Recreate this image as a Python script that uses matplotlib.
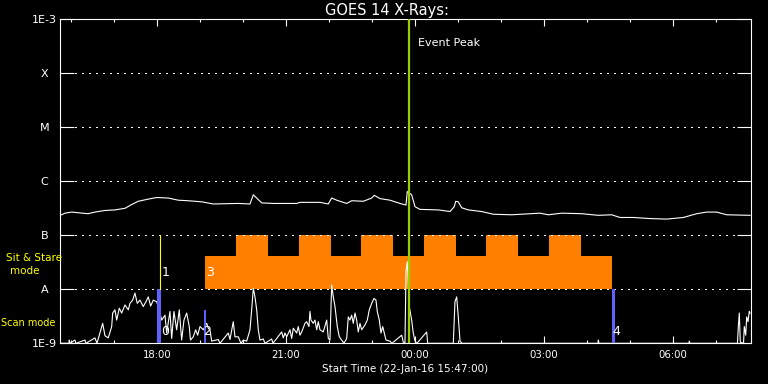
import matplotlib
matplotlib.use("Agg")
import matplotlib.pyplot as plt

# times are hours since 22-Jan-16 00:00, fluxes are log10(W/m^2)
goes_t = [15.783, 15.860, 16.016, 16.395, 16.558, 16.791, 17.023, 17.256, 17.412, 17.565,
          17.798, 17.993, 18.263, 18.495, 18.728, 19.040, 19.309, 19.884, 20.163, 20.240,
          20.319, 20.435, 20.705, 21.249, 21.326, 21.791, 21.984, 22.063, 22.179, 22.412,
          22.528, 22.798, 22.993, 23.053, 23.186, 23.419, 23.651, 23.791, 23.821, 23.923,
          24.000, 24.116, 24.542, 24.814, 24.914, 24.947, 25.007, 25.086, 25.240, 25.551,
          25.821, 26.249, 26.907, 27.100, 27.412, 27.877, 28.263, 28.574, 28.767, 29.077,
          29.465, 29.853, 30.240, 30.551, 30.784, 31.016, 31.249, 31.791]
goes_lg = [-6.62, -6.59, -6.57, -6.60, -6.57, -6.54, -6.53, -6.50, -6.43, -6.37,
           -6.33, -6.30, -6.31, -6.35, -6.36, -6.38, -6.42, -6.41, -6.42, -6.25,
           -6.31, -6.40, -6.41, -6.41, -6.39, -6.39, -6.42, -6.31, -6.35, -6.41,
           -6.36, -6.37, -6.31, -6.26, -6.32, -6.35, -6.41, -6.44, -6.19, -6.25,
           -6.47, -6.52, -6.53, -6.56, -6.47, -6.37, -6.38, -6.49, -6.53, -6.56,
           -6.61, -6.62, -6.59, -6.62, -6.59, -6.60, -6.63, -6.62, -6.67, -6.67,
           -6.69, -6.70, -6.67, -6.60, -6.57, -6.57, -6.62, -6.63]

scan_t = [15.780, 15.953, 15.960, 15.977, 16.093, 16.116, 16.326, 16.349, 16.558, 16.605,
          16.674, 16.737, 16.791, 16.867, 16.947, 16.970, 17.023, 17.063, 17.123, 17.179,
          17.256, 17.333, 17.372, 17.435, 17.488, 17.542, 17.605, 17.681, 17.744, 17.798,
          17.853, 17.914, 17.993, 18.070, 18.109, 18.186, 18.226, 18.302, 18.342, 18.395,
          18.458, 18.519, 18.574, 18.628, 18.691, 18.751, 18.779, 18.844, 18.900, 18.947,
          19.000, 19.077, 19.116, 19.156, 19.193, 19.233, 19.272, 19.426, 19.465, 19.658,
          19.698, 19.774, 19.814, 19.891, 19.953, 20.007, 20.086, 20.163, 20.202, 20.240,
          20.279, 20.319, 20.356, 20.395, 20.472, 20.512, 20.667, 20.698, 20.900, 20.937,
          20.977, 21.016, 21.093, 21.133, 21.170, 21.249, 21.286, 21.326, 21.365, 21.442,
          21.481, 21.535, 21.558, 21.581, 21.635, 21.674, 21.714, 21.751, 21.791, 21.867,
          21.947, 21.984, 22.023, 22.063, 22.100, 22.140, 22.193, 22.240, 22.295, 22.349,
          22.412, 22.449, 22.488, 22.528, 22.565, 22.605, 22.644, 22.681, 22.721, 22.760,
          22.837, 22.891, 22.937, 22.993, 23.047, 23.093, 23.123, 23.170, 23.209, 23.249,
          23.286, 23.326, 23.419, 23.465, 23.691, 23.728, 23.767, 23.791, 23.821, 23.867,
          23.923, 23.960, 24.000, 24.047, 24.272, 24.295, 24.891, 24.930, 24.970, 25.007,
          25.047, 25.093, 28.256, 28.263, 28.279, 30.372, 30.379, 30.395, 31.500, 31.519,
          31.542, 31.565, 31.640, 31.658, 31.691, 31.714, 31.744, 31.774, 31.791]
scan_lg = [-9.00, -9.00, -8.94, -9.00, -8.94, -9.00, -8.94, -9.00, -8.90, -9.00,
           -8.81, -8.63, -8.86, -8.90, -8.69, -8.44, -8.38, -8.57, -8.35, -8.44,
           -8.29, -8.38, -8.26, -8.20, -8.07, -8.26, -8.20, -8.32, -8.23, -8.14,
           -8.31, -8.20, -8.23, -8.44, -8.57, -8.48, -8.81, -8.41, -8.91, -8.41,
           -8.75, -8.38, -8.94, -8.57, -8.44, -8.69, -8.94, -8.88, -8.75, -8.85,
           -8.69, -8.75, -8.69, -8.63, -8.72, -8.75, -8.96, -8.93, -9.00, -8.81,
           -8.93, -8.60, -8.88, -8.88, -9.00, -8.94, -8.96, -8.75, -8.38, -7.98,
           -8.14, -8.38, -8.75, -8.94, -8.92, -9.00, -8.92, -9.00, -8.79, -8.90,
           -8.81, -8.88, -8.75, -8.91, -8.72, -8.81, -8.69, -8.85, -8.79, -8.63,
           -8.60, -8.69, -8.41, -8.57, -8.63, -8.57, -8.75, -8.60, -8.75, -8.79,
           -8.57, -8.91, -8.94, -7.92, -8.14, -8.32, -8.69, -8.88, -8.94, -9.00,
           -8.91, -8.51, -8.57, -8.48, -8.63, -8.44, -8.57, -8.79, -8.63, -8.75,
           -8.66, -8.57, -8.38, -8.26, -8.17, -8.20, -8.41, -8.57, -8.81, -8.69,
           -8.81, -8.94, -8.96, -9.00, -8.85, -8.98, -9.00, -7.67, -7.49, -8.32,
           -8.57, -8.81, -8.96, -9.00, -8.79, -9.00, -9.00, -8.23, -8.14, -8.51,
           -8.96, -9.00, -9.00, -8.94, -9.00, -9.00, -8.96, -9.00, -9.00, -8.69,
           -8.44, -8.98, -9.00, -8.69, -8.85, -8.51, -8.60, -8.41, -8.44]

# sit & stare pointings: one long base block plus six raised blocks
stare_span = (19.116, 28.581)
stare_low, stare_high = -7.38, -7.0
raised_start = [19.837, 21.302, 22.744, 24.209, 25.651, 27.116]
raised_end = [20.581, 22.047, 23.488, 24.953, 26.395, 27.860]

# scan mode markers (blue bars) and their numbers
scan_bar_t = [18.000, 19.090, 28.581]
scan_bar_w = [0.093, 0.047, 0.070]
scan_bar_top = [-8.0, -8.38, -8.0]
scan_num = ["0", "2", "4"]
scan_num_t = [18.09, 19.08, 28.60]

stare_line_t = 18.077
event_peak_t = 23.86

level_pos = [-9, -8, -7, -6, -5, -4, -3]
level_lbl = ["1E-9", "A", "B", "C", "M", "X", "1E-3"]
hour_major = [18, 21, 24, 27, 30]
hour_lbl = ["18:00", "21:00", "00:00", "03:00", "06:00"]
hour_minor = list(range(16, 32))

W, H = 768, 384
fig = plt.figure(figsize=(W / 100, H / 100), dpi=100, facecolor="black")
ax = fig.add_axes([60.3 / W, 1 - 343.3 / H, 690.4 / W, 324 / H], facecolor="black")
ax.set_xlim(15.752, 31.807)
ax.set_ylim(-9, -3)

# orange sit & stare blocks
ax.bar(stare_span[0], stare_low - (-8.0), width=stare_span[1] - stare_span[0],
       bottom=-8.0, align="edge", color="#ff8000", lw=0, zorder=2)
for s, e in zip(raised_start, raised_end):
    ax.bar(s, stare_high - stare_low, width=e - s, bottom=stare_low,
           align="edge", color="#ff8000", lw=0, zorder=2)

# dotted level lines (crisp 1px dots every 6px)
for lv in level_pos[1:-1]:
    ax.axhline(lv, xmin=0.0213, xmax=0.9787, color="white", lw=0.75,
               ls=(0, (1, 5)), antialiased=False, zorder=3)

ax.plot(goes_t, goes_lg, color="white", lw=0.8, zorder=4)
ax.plot(scan_t, scan_lg, color="white", lw=0.8, zorder=4)

for t, w, top in zip(scan_bar_t, scan_bar_w, scan_bar_top):
    ax.bar(t, top + 9, width=w, bottom=-9, align="edge", color="#6060ff", lw=0, zorder=5)
for lbl, t in zip(scan_num, scan_num_t):
    ax.text(t, -8.79, lbl, color="white", fontsize=9, ha="left", va="center", zorder=6)

ax.plot([stare_line_t, stare_line_t], [-8, -7], color="yellow", lw=0.8, zorder=5)
ax.text(18.116, -7.68, "1", color="white", fontsize=9, ha="left", va="center", zorder=6)
ax.text(19.14, -7.68, "3", color="white", fontsize=9, ha="left", va="center", zorder=6)

ax.axvline(event_peak_t, color="#9acd00", lw=1.6, zorder=5)
ax.text(24.07, -3.44, "Event Peak", color="white", fontsize=8, ha="left", va="center")

# axes styling
for sp in ax.spines.values():
    sp.set_color("white")
    sp.set_linewidth(0.8)
ax.set_yticks(level_pos)
ax.set_yticklabels(level_lbl)
ax.set_xticks(hour_major)
ax.set_xticklabels(hour_lbl)
ax.set_xticks(hour_minor, minor=True)
ax.tick_params(axis="y", which="both", direction="in", left=True, right=True,
               length=10, width=0.8, color="white", labelcolor="white",
               labelsize=8, pad=11.4)
for lab in ax.get_yticklabels():
    lab.set_horizontalalignment("center")
ax.tick_params(axis="x", which="major", direction="in", top=True, bottom=True,
               length=4.8, width=0.8, color="white", labelcolor="white",
               labelsize=7.3, pad=5)
ax.tick_params(axis="x", which="minor", direction="in", top=True, bottom=True,
               length=2.4, width=0.8, color="white")

fig.text(387 / W, 1 - 10 / H, "GOES 14 X-Rays:", color="white", fontsize=10.5,
         ha="center", va="center")
fig.text(405 / W, 1 - 368.5 / H, "Start Time (22-Jan-16 15:47:00)", color="white",
         fontsize=7.5, ha="center", va="center")
fig.text(34.5 / W, 1 - 258 / H, "Sit & Stare", color="yellow", fontsize=7.5,
         ha="center", va="center")
fig.text(24.5 / W, 1 - 271 / H, "mode", color="yellow", fontsize=7.5,
         ha="center", va="center")
fig.text(28.5 / W, 1 - 323.5 / H, "Scan mode", color="yellow", fontsize=7,
         ha="center", va="center")

fig.savefig("out.png", dpi=100, facecolor="black")
